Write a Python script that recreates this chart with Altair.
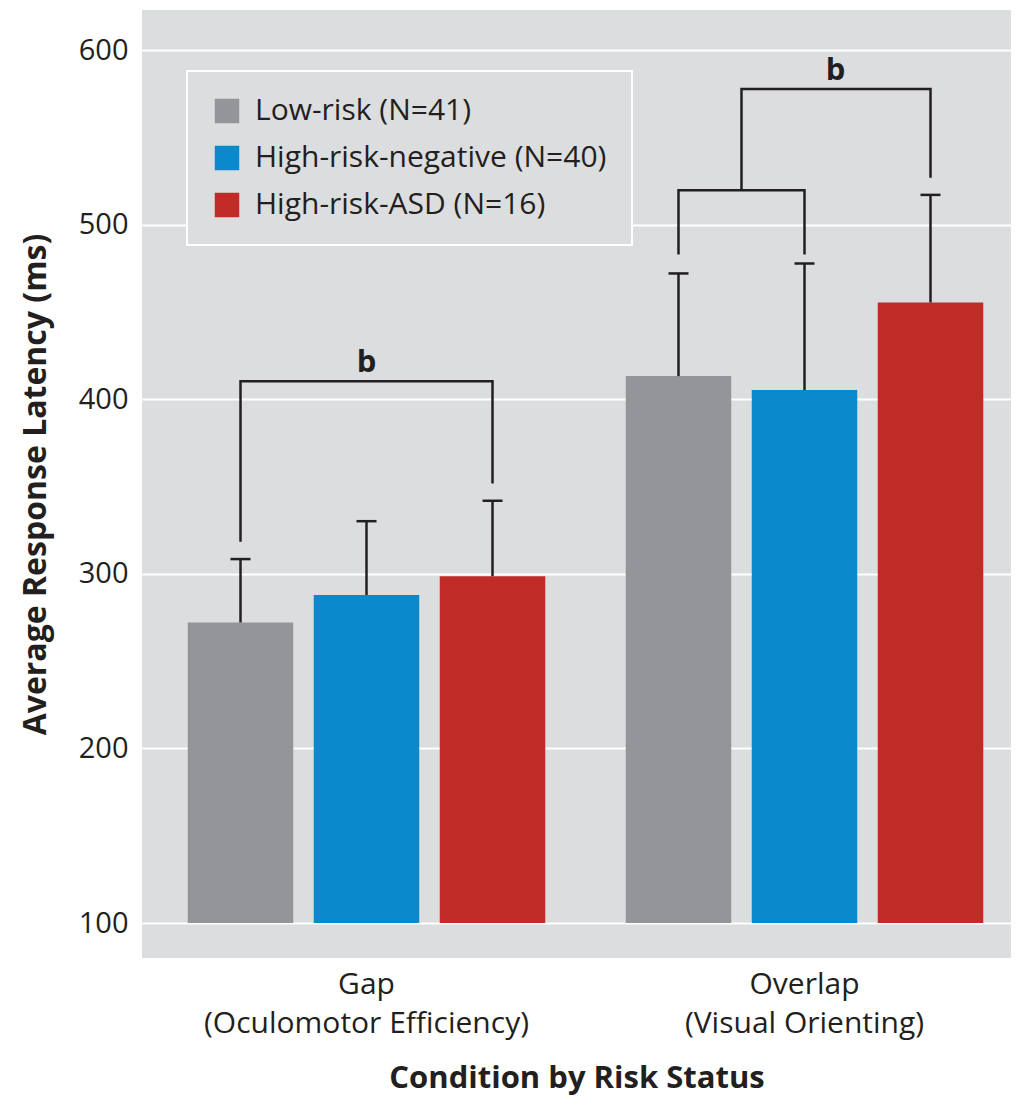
import altair as alt
import pandas as pd

# ---------------- data ----------------
conditions = ["Gap", "Overlap"]
condition_subtitles = ["(Oculomotor Efficiency)", "(Visual Orienting)"]
groups = ["Low-risk (N=41)", "High-risk-negative (N=40)", "High-risk-ASD (N=16)"]
group_colors = ["#939598", "#0a8acd", "#c12b27"]

gap_means = [272.2, 287.9, 298.7]
gap_upper = [308.5, 330.2, 341.9]
overlap_means = [413.3, 405.3, 455.5]
overlap_upper = [472.1, 477.8, 517.1]

# slots along each condition band (bars sit on groups; brackets may use the mid slots)
slots = [groups[0], "mid-1", groups[1], "mid-2", groups[2]]

# significance brackets (path points, in data units)
bracket_id = ["gap"] * 4 + ["ov_low"] * 4 + ["ov_up"] * 4
bracket_cond = ["Gap"] * 4 + ["Overlap"] * 8
bracket_slot = [groups[0], groups[0], groups[2], groups[2],
                groups[0], groups[0], groups[1], groups[1],
                "mid-1", "mid-1", groups[2], groups[2]]
bracket_y = [318.4, 410.4, 410.4, 351.8,
             483.0, 519.8, 519.8, 483.0,
             519.8, 577.8, 577.8, 526.9]
bracket_order = [0, 1, 2, 3] * 3

sig_cond = ["Gap", "Overlap"]
sig_y = [410.4, 577.8]
sig_text = ["b", "b"]

# ---------------- tables ----------------
bars_df = pd.DataFrame({
    "condition": ["Gap"] * 3 + ["Overlap"] * 3,
    "group": groups + groups,
    "mean": gap_means + overlap_means,
    "upper": gap_upper + overlap_upper,
})
br_df = pd.DataFrame({
    "bracket": bracket_id, "condition": bracket_cond, "group": bracket_slot,
    "y": bracket_y, "ord": bracket_order,
})
sig_df = pd.DataFrame({"condition": sig_cond, "y": sig_y, "t": sig_text})

INK = "#231f20"
FONT = "Open Sans"

label_expr = " : ".join(
    f"datum.value == '{c}' ? ['{c}', '{s}']" for c, s in zip(conditions, condition_subtitles)
) + " : datum.label"

def X():
    return alt.X(
        "condition:N",
        title="Condition by Risk Status",
        scale=alt.Scale(domain=conditions, paddingInner=0.2808, paddingOuter=0.13241,
                        align=0.5776),
        axis=alt.Axis(labelAngle=0, ticks=False, domain=False, grid=False,
                      labelPadding=11, labelLineHeight=39, labelExpr=label_expr,
                      labelLimit=1000,
                      labelFontSize=30, labelColor=INK, labelFont=FONT,
                      titleFontSize=31, titleFontWeight="bold", titleColor=INK,
                      titleFont=FONT, titlePadding=25),
    )

def XO(field="group"):
    return alt.XOffset(f"{field}:N",
                       scale=alt.Scale(domain=slots, paddingInner=0, paddingOuter=0))

def Y(field):
    return alt.Y(
        f"{field}:Q",
        title="Average Response Latency (ms)",
        scale=alt.Scale(domain=[80, 623], nice=False, zero=False),
        axis=alt.Axis(values=[100, 200, 300, 400, 500, 600], ticks=False, domain=False,
                      grid=True, gridColor="white", gridWidth=2,
                      labelFontSize=29, labelColor=INK, labelFont=FONT, labelPadding=14,
                      titleFontSize=32, titleFontWeight="bold", titleColor=INK,
                      titleFont=FONT, titlePadding=26),
    )

bars = alt.Chart(bars_df).mark_bar(width=105.5).encode(
    x=X(), xOffset=XO(), y=Y("mean"), y2=alt.datum(100),
    color=alt.Color(
        "group:N",
        scale=alt.Scale(domain=groups, range=group_colors),
        legend=alt.Legend(title=None, orient="none", legendX=45, legendY=61,
                          symbolType="square", symbolSize=600, symbolStrokeWidth=0,
                          symbolOpacity=1, labelFontSize=30, labelFont=FONT,
                          labelColor=INK, labelOffset=13, rowPadding=17, padding=25,
                          labelLimit=600, fillColor="#dcdddf", strokeColor="white"),
    ),
)

err = alt.Chart(bars_df).mark_rule(color=INK, strokeWidth=2.5).encode(
    x=X(), xOffset=XO(), y=Y("mean"), y2="upper:Q",
)

caps = alt.Chart(bars_df).mark_tick(color=INK, size=20, thickness=2.5, opacity=1).encode(
    x=X(), xOffset=XO(), y=Y("upper"),
)

brackets = alt.Chart(br_df).mark_line(color=INK, strokeWidth=2.5, strokeJoin="miter",
                                      strokeCap="butt").encode(
    x=X(), xOffset=XO(), y=Y("y"), detail="bracket:N", order=alt.Order("ord:Q"),
)

sig_gap = alt.Chart(sig_df).transform_filter(alt.datum.condition == "Gap").mark_text(
    fontSize=31, fontWeight="bold", font=FONT, color=INK, baseline="alphabetic", dy=-9,
).encode(x=X(), y=Y("y"), text="t:N")

sig_ov = alt.Chart(sig_df).transform_filter(alt.datum.condition == "Overlap").mark_text(
    fontSize=31, fontWeight="bold", font=FONT, color=INK, baseline="alphabetic", dy=-9, dx=31,
).encode(x=X(), y=Y("y"), text="t:N")

chart = alt.layer(bars, err, caps, brackets, sig_gap, sig_ov).properties(
    width=869, height=948,
    autosize=alt.AutoSizeParams(type="none"),
    padding={"left": 134, "top": 2, "right": 0, "bottom": 140},
).configure(font=FONT).configure_view(fill="#dcdddf", strokeWidth=0).configure_legend(
    strokeWidth=2
)

chart.save("out.html", embed_options={"renderer": "svg", "actions": False})
